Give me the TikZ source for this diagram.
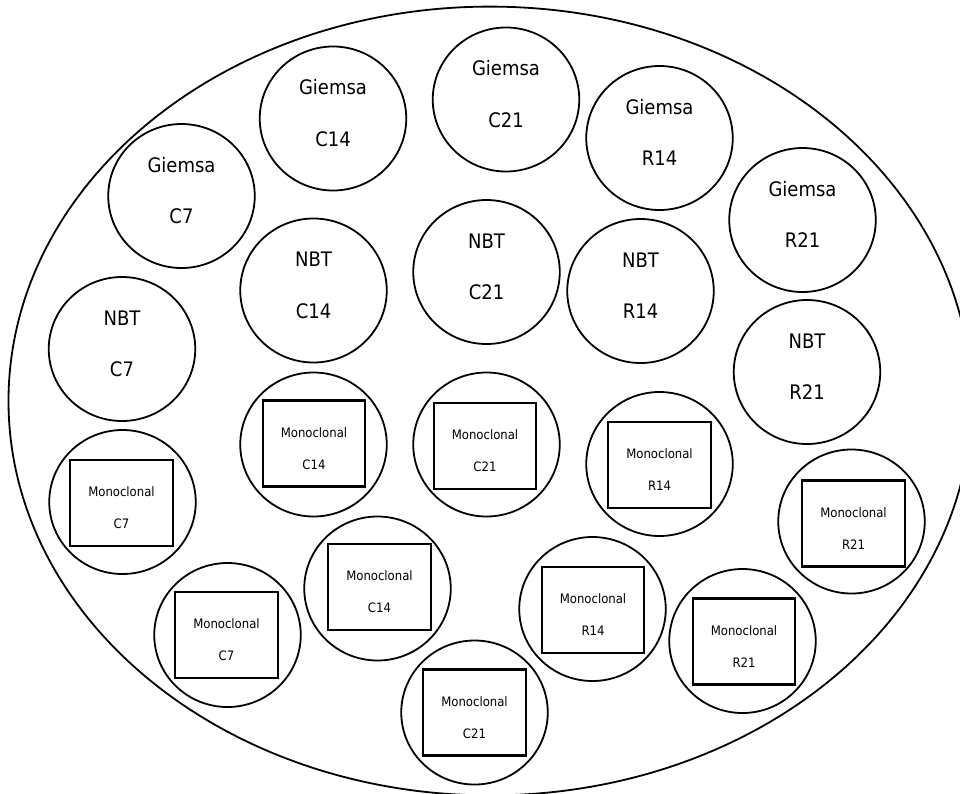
\documentclass[tikz,border=0pt]{standalone}
\usepackage{fontspec}
\setmainfont{DejaVu Sans Condensed}
\usetikzlibrary{shapes.geometric}
\tikzset{
  well/.style={draw, ellipse, line width=1.8pt, minimum width=146.5pt, minimum height=144pt, inner sep=0pt},
  plate/.style={draw, ellipse, line width=1.8pt, minimum width=963pt, minimum height=788.8pt, inner sep=0pt},
  monobox/.style={draw, rectangle, line width=2.3pt, minimum width=102.5pt, minimum height=86pt, inner sep=0pt},
  bigtxt/.style={font=\fontsize{20pt}{24pt}\selectfont, inner sep=0pt},
  smalltxt/.style={font=\fontsize{13pt}{15pt}\selectfont, inner sep=0pt},
}
\newcommand\bigwell[5]{%
  \node[well] (#1) at (#2,#3) {};
  \node[bigtxt] (#1-a) at ([yshift=31pt]#1.center) {#4};
  \node[bigtxt] (#1-b) at ([yshift=-20.5pt]#1.center) {#5};}
\newcommand\monowell[6]{%
  \node[well] (#1) at (#2,#3) {};
  \node[monobox] (#1-box) at (#4,#5) {};
  \node[smalltxt] (#1-a) at ([yshift=11pt]#1-box.center) {Monoclonal};
  \node[smalltxt] (#1-b) at ([yshift=-21pt]#1-box.center) {#6};}
\begin{document}
\begin{tikzpicture}[x=1pt,y=-1pt]
\useasboundingbox (0,0) rectangle (960,793);
\clip (0,0) rectangle (960,793);
\node[plate] (dish) at (490,401) {};
% Giemsa row
\bigwell{gC14}{333}{118.5}{Giemsa}{C14}
\bigwell{gC21}{506}{99.5}{Giemsa}{C21}
\bigwell{gR14}{659.5}{138}{Giemsa}{R14}
\bigwell{gC7}{181.5}{196}{Giemsa}{C7}
\bigwell{gR21}{802.5}{220}{Giemsa}{R21}
% NBT row
\bigwell{nC14}{313.5}{290.5}{NBT}{C14}
\bigwell{nC21}{486.5}{272}{NBT}{C21}
\bigwell{nR14}{640.5}{291}{NBT}{R14}
\bigwell{nC7}{122}{349}{NBT}{C7}
\bigwell{nR21}{807}{372}{NBT}{R21}
% Monoclonal wells
\monowell{mC7a}{122.5}{502}{121.5}{503}{C7}
\monowell{mC14a}{313.5}{444.5}{314}{443.5}{C14}
\monowell{mC21a}{486.5}{444.5}{485}{446}{C21}
\monowell{mR14a}{659.5}{464}{659.5}{465}{R14}
\monowell{mR21a}{851.5}{521.5}{853.5}{523.5}{R21}
\monowell{mC14b}{377.5}{588.5}{379.5}{587}{C14}
\monowell{mC7b}{227.5}{635}{226.5}{635}{C7}
\monowell{mR14b}{592.5}{609}{593}{610}{R14}
\monowell{mR21b}{742.5}{641}{744}{641.5}{R21}
\monowell{mC21b}{474.5}{712.5}{474.5}{712.5}{C21}
\end{tikzpicture}
\end{document}
